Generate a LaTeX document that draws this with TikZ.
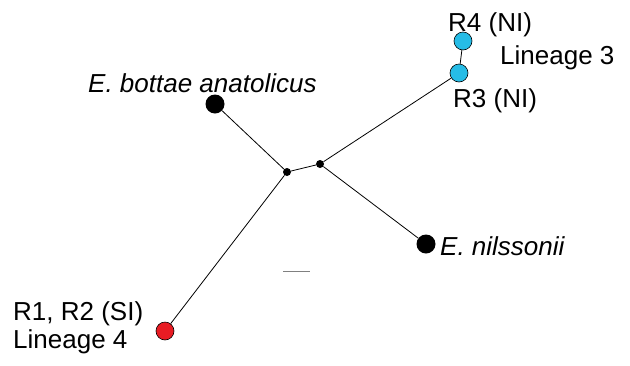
\documentclass[tikz,border=0pt]{standalone}
\usepackage{fontspec}
\setmainfont{Liberation Sans}
\usepackage{xcolor}
\usepackage{tikz}
\definecolor{nicyan}{RGB}{38,188,230}
\definecolor{sired}{RGB}{232,28,36}
\tikzset{
    tip/.style={circle, fill=black, inner sep=0pt, minimum size=19pt},
    knot/.style={circle, fill=black, inner sep=0pt, minimum size=8pt},
    pop/.style={circle, draw=black, line width=0.6pt, inner sep=0pt, minimum size=18pt},
    lab/.style={inner sep=0pt, font=\fontsize{26}{30}\selectfont},
}
\begin{document}
\begin{tikzpicture}[x=1pt, y=-1pt]
        \useasboundingbox (0,0) rectangle (630,365);
        % internal nodes
        \node[knot] (a) at (287,172) {};
        \node[knot] (b) at (320,164) {};
        % tips
        \node[tip] (bot) at (215,104) {};
        \node[tip] (nil) at (426,244) {};
        \node[pop, fill=nicyan] (r3) at (459,73) {};
        \node[pop, fill=nicyan] (r4) at (463,41) {};
        \node[pop, fill=sired] (r12) at (165,331) {};
        % labels
        \node[lab, anchor=base west] (tbot) at (88,92) {\itshape E. bottae anatolicus};
        \node[lab, anchor=base west] (tnil) at (440,255) {\itshape E. nilssonii};
        \node[lab, anchor=base west] (tr4) at (448,31) {R4 (NI)};
        \node[lab, anchor=base west] (tl3) at (500,64) {Lineage 3};
        \node[lab, anchor=base west] (tr3) at (453,107) {R3 (NI)};
        \node[lab, anchor=base west] (tr12) at (13,320) {R1, R2 (SI)};
        \node[lab, anchor=base west] (tl4) at (13,348) {Lineage 4};
        % branches
        \path[draw, line width=0.8pt] (bot) -- (a);
        \path[draw, line width=0.8pt] (a) -- (b);
        \path[draw, line width=0.8pt] (b) -- (r3);
        \path[draw, line width=0.8pt] (r3) -- (r4);
        \path[draw, line width=0.8pt] (b) -- (nil);
        \path[draw, line width=0.8pt] (a) -- (r12);
        % scale bar
        \coordinate (s1) at (283,271);
        \coordinate (s2) at (310,271);
        \path[draw, gray, line width=1pt] (s1) -- (s2);
    \end{tikzpicture}
\end{document}
